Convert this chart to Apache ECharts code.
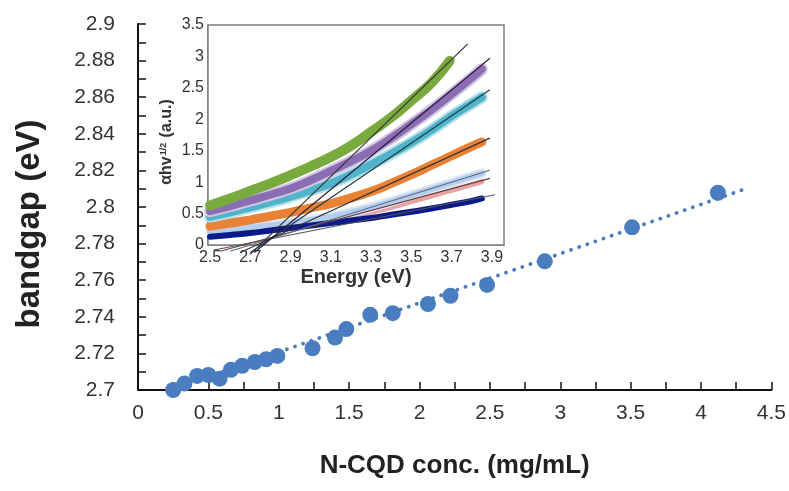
<!DOCTYPE html>
<html>
<head>
<meta charset="utf-8">
<script src="https://cdn.jsdelivr.net/npm/echarts@6/dist/echarts.min.js"></script>
<style>
  html, body { margin: 0; padding: 0; background: #fff; }
  #chart { width: 789px; height: 491px; }
</style>
</head>
<body>
<div id="chart"></div>
<script>
// Main plot: optical bandgap versus N-CQD concentration
const conc = [0.25, 0.33, 0.42, 0.50, 0.58, 0.66, 0.74, 0.83, 0.91, 0.99, 1.24, 1.40, 1.48, 1.65, 1.81, 2.06, 2.22, 2.48, 2.89, 3.51, 4.12];
const bandgap = [2.700, 2.7035, 2.7077, 2.7082, 2.7062, 2.711, 2.7132, 2.7153, 2.7168, 2.7186, 2.7228, 2.7287, 2.7333, 2.7411, 2.742, 2.747, 2.7515, 2.7574, 2.7703, 2.7889, 2.8078];
// Linear trend line end points
const trendConc = [0.25, 4.30];
const trendGap = [2.7005, 2.8095];

// Inset: Tauc plot (alpha h nu)^1/2 vs photon energy
const energyShort = [2.5, 2.6, 2.7, 2.8, 2.9, 3.0, 3.1, 3.2, 3.3, 3.4, 3.5, 3.6, 3.69];
const energyLong = [2.5, 2.6, 2.7, 2.8, 2.9, 3.0, 3.1, 3.2, 3.3, 3.4, 3.5, 3.6, 3.7, 3.8, 3.85];
const taucGreen = [0.63, 0.74, 0.86, 0.98, 1.11, 1.25, 1.40, 1.58, 1.80, 2.03, 2.30, 2.58, 2.93];
const taucPurple = [0.54, 0.62, 0.71, 0.80, 0.90, 1.03, 1.18, 1.33, 1.50, 1.70, 1.92, 2.15, 2.40, 2.66, 2.80];
const taucCyan = [0.45, 0.52, 0.60, 0.68, 0.77, 0.87, 0.98, 1.12, 1.28, 1.45, 1.63, 1.83, 2.05, 2.25, 2.35];
const taucOrange = [0.30, 0.35, 0.40, 0.46, 0.52, 0.59, 0.66, 0.75, 0.85, 0.98, 1.12, 1.27, 1.42, 1.57, 1.64];
const taucLightBlue = [0.22, 0.25, 0.28, 0.31, 0.35, 0.40, 0.45, 0.52, 0.60, 0.69, 0.79, 0.89, 0.99, 1.09, 1.14];
const taucPink = [0.20, 0.22, 0.25, 0.28, 0.31, 0.35, 0.40, 0.45, 0.52, 0.60, 0.69, 0.78, 0.87, 0.96, 1.01];
const taucNavy = [0.13, 0.16, 0.19, 0.23, 0.27, 0.31, 0.35, 0.39, 0.43, 0.48, 0.53, 0.58, 0.64, 0.70, 0.74];
// Linear extrapolations to the energy axis: [E1, y1, E2, y2]
const fitGreen = [2.70, -0.15, 3.78, 3.20];
const fitPurple = [2.72, -0.12, 3.89, 2.97];
const fitCyan = [2.70, -0.12, 3.89, 2.47];
const fitOrange = [2.65, -0.12, 3.89, 1.70];
const fitLightBlue = [2.60, -0.10, 3.89, 1.19];
const fitPink = [2.55, -0.10, 3.89, 1.06];
const fitNavy = [2.52, -0.08, 3.915, 0.80];

const insetXLabels = [2.5, 2.7, 2.9, 3.1, 3.3, 3.5, 3.7, 3.9];
const insetXTicks = [];
for (let i = 0; i <= 29; i++) insetXTicks.push(+(2.5 + i * 0.05).toFixed(2));

const FONT = 'Liberation Sans, Arial, sans-serif';
const pair = (xs, ys) => xs.map((x, i) => [x, ys[i]]);
const seg = f => [[f[0], f[1]], [f[2], f[3]]];

// a thick smoothed band, optionally with a soft halo underneath
const band = (name, xs, ys, color, width, halo) => {
  const out = [];
  if (halo) {
    out.push({
      name: name + 'Halo', type: 'line', xAxisIndex: 1, yAxisIndex: 1,
      data: pair(xs, ys), smooth: true, showSymbol: false, symbol: 'none',
      lineStyle: { color: halo, width: width + 4, cap: 'round' }, z: 3, silent: true
    });
  }
  out.push({
    name, type: 'line', xAxisIndex: 1, yAxisIndex: 1,
    data: pair(xs, ys), smooth: true, showSymbol: false, symbol: 'none',
    lineStyle: { color, width, cap: 'round' }, z: 3, silent: true
  });
  return out;
};
const fitLine = (name, f, color) => ({
  name, type: 'line', xAxisIndex: 1, yAxisIndex: 1,
  data: seg(f), showSymbol: false, symbol: 'none', clip: false,
  lineStyle: { color, width: 1.2 }, z: 5, silent: true
});

const chart = echarts.init(document.getElementById('chart'), null, { renderer: 'canvas' });
chart.setOption({
  backgroundColor: '#fff',
  animation: false,
  textStyle: { fontFamily: FONT },
  grid: [
    { left: 138, right: 16, top: 24, bottom: 101, containLabel: false },
    { left: 208, right: 285, top: 25, bottom: 246, show: true, backgroundColor: '#fff',
      borderColor: '#7f7f7f', borderWidth: 1.5, z: 1 }
  ],
  xAxis: [
    {
      gridIndex: 0, type: 'value', min: 0, max: 4.5, interval: 0.5,
      name: 'N-CQD conc. (mg/mL)', nameLocation: 'middle', nameGap: 63,
      nameTextStyle: { fontSize: 26, fontWeight: 'bold', color: '#222', fontFamily: FONT },
      axisLine: { show: true, lineStyle: { color: '#111', width: 2 } },
      axisTick: { show: true, inside: true, length: 8, lineStyle: { color: '#111', width: 1.5 } },
      minorTick: { show: true, splitNumber: 2, length: 8, lineStyle: { color: '#111', width: 1.5 } },
      axisLabel: { fontSize: 21, color: '#333', margin: 13, fontFamily: FONT },
      splitLine: { show: false }
    },
    {
      gridIndex: 1, type: 'value', min: 2.49, max: 3.96,
      name: 'Energy (eV)', nameLocation: 'middle', nameGap: 22,
      nameTextStyle: { fontSize: 20, fontWeight: 'bold', color: '#333', fontFamily: FONT },
      axisLine: { show: true, onZero: false, lineStyle: { color: '#7f7f7f', width: 1.5 } },
      axisTick: { show: true, inside: true, length: 3, customValues: insetXTicks, lineStyle: { color: '#7f7f7f', width: 1 } },
      axisLabel: { fontSize: 16, color: '#333', margin: 5, customValues: insetXLabels, fontFamily: FONT,
        formatter: v => v.toFixed(1) },
      splitLine: { show: false }
    }
  ],
  yAxis: [
    {
      gridIndex: 0, type: 'value', min: 2.7, max: 2.9, interval: 0.02,
      axisLine: { show: true, lineStyle: { color: '#111', width: 2 } },
      axisTick: { show: true, inside: true, length: 8, lineStyle: { color: '#111', width: 1.5 } },
      minorTick: { show: true, splitNumber: 2, length: 8, lineStyle: { color: '#111', width: 1.5 } },
      axisLabel: { fontSize: 21, color: '#333', margin: 23, fontFamily: FONT },
      splitLine: { show: false }
    },
    {
      gridIndex: 1, type: 'value', min: 0, max: 3.5, interval: 0.5,
      name: '{a|αhv}{s|1/2}{a| (a.u.)}', nameLocation: 'middle', nameGap: 33,
      nameTextStyle: {
        padding: [0, 0, 0, -14],
        rich: {
          a: { fontSize: 16, fontWeight: 'bold', color: '#333', fontFamily: FONT },
          s: { fontSize: 9, fontWeight: 'bold', color: '#333', fontFamily: FONT, verticalAlign: 'top', padding: [0, 1, 7, 1] }
        }
      },
      axisLine: { show: true, onZero: false, lineStyle: { color: '#7f7f7f', width: 1.5 } },
      axisTick: { show: true, inside: true, length: 3, lineStyle: { color: '#7f7f7f', width: 1 } },
      axisLabel: { fontSize: 16, color: '#333', margin: 4, fontFamily: FONT },
      splitLine: { show: false }
    }
  ],
  graphic: [
    {
      type: 'text', x: 30, y: 224, rotation: Math.PI / 2,
      style: { text: 'bandgap (eV)', font: 'bold 33px ' + FONT, fill: '#222', align: 'center', verticalAlign: 'middle' }
    }
  ],
  series: [
    {
      name: 'trend', type: 'line', xAxisIndex: 0, yAxisIndex: 0,
      data: pair(trendConc, trendGap), showSymbol: false, symbol: 'none',
      lineStyle: { color: '#4a7dbf', width: 3.8, type: [0.1, 8.5], cap: 'round' }, z: 2, silent: true
    },
    {
      name: 'bandgap', type: 'scatter', xAxisIndex: 0, yAxisIndex: 0,
      data: pair(conc, bandgap), symbol: 'circle', symbolSize: 16, clip: false,
      itemStyle: { color: '#4a7dbf', opacity: 1 }, z: 3
    },
    ...band('pink', energyLong, taucPink, '#e8a3a3', 5),
    ...band('lightblue', energyLong, taucLightBlue, '#b6cdec', 6, '#dfe9f6'),
    ...band('navy', energyLong, taucNavy, '#0b1a8a', 6),
    ...band('orange', energyLong, taucOrange, '#e98235', 9),
    ...band('cyan', energyLong, taucCyan, '#4fb3ca', 8, '#b4e0ea'),
    ...band('purple', energyLong, taucPurple, '#8b6db4', 8, '#d2c5e4'),
    ...band('green', energyShort, taucGreen, '#79aa3e', 10),
    fitLine('fitNavy', fitNavy, '#555'),
    fitLine('fitPink', fitPink, '#6b3b3b'),
    fitLine('fitLightBlue', fitLightBlue, '#5b6f86'),
    fitLine('fitOrange', fitOrange, '#333'),
    fitLine('fitCyan', fitCyan, '#1f3b45'),
    fitLine('fitPurple', fitPurple, '#2a1c3c'),
    fitLine('fitGreen', fitGreen, '#333')
  ]
});
</script>
</body>
</html>
